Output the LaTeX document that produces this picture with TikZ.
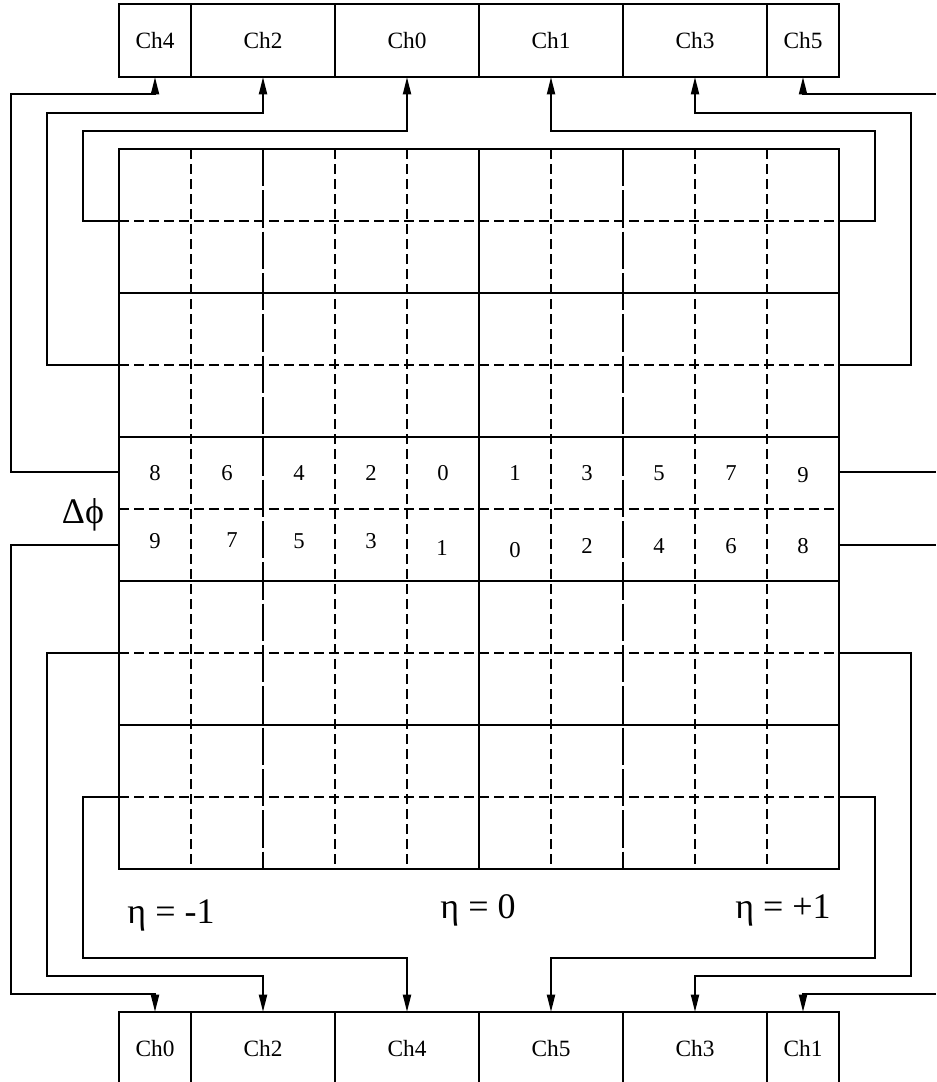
\documentclass[tikz,border=0pt]{standalone}
\usepackage{fontspec}
\setmainfont{Liberation Serif}
\usetikzlibrary{arrows.meta}

\begin{document}
\begin{tikzpicture}[x=0.75pt, y=-0.75pt, line width=1.4pt,
    chbox/.style={draw, minimum height=54.75pt, inner sep=0pt, outer sep=0pt, font=\fontsize{17.5}{20}\selectfont},
    wire/.style={-{Triangle[length=13pt, width=6pt]}},
    fine/.style={dash pattern=on 7.5pt off 3.75pt},
    longdash/.style={dash pattern=on 28pt off 3pt},
    cellnum/.style={font=\fontsize{17}{20}\selectfont},
    biglabel/.style={font=\fontsize{27}{30}\selectfont}]
    \clip (0,0) rectangle (936,1082);

    % cell grid, 10 x 10 cells
    \draw (119,149) rectangle (839,869);
    \foreach \y in {293,437,581,725} \draw (119,\y) -- (839,\y);
    \foreach \y in {221,365,509,653,797} \draw[fine] (119,\y) -- (839,\y);
    \draw (479,149) -- (479,869);
    \foreach \x in {263,623} \draw[longdash] (\x,149) -- (\x,869);
    \foreach \x in {191,335,407,551,695,767} \draw[fine] (\x,149) -- (\x,869);

    % channel boxes
    \foreach \c/\x/\w in {4/155/54, 2/263/108, 0/407/108, 1/551/108, 3/695/108, 5/803/54}
        \node[chbox, minimum width=\w pt] (t\c) at (\x,40.5) {Ch\c};
    \foreach \c/\x/\w in {0/155/54, 2/263/108, 4/407/108, 5/551/108, 3/695/108, 1/803/54}
        \node[chbox, minimum width=\w pt] (b\c) at (\x,1048.5) {Ch\c};

    % where the wires leave the grid
    \foreach \n/\y in {a/221, b/365, c/472, d/545, e/653, f/797} {
        \coordinate (L\n) at (119,\y); \coordinate (R\n) at (839,\y);
    }
    \coordinate (Ec) at (936,472); \coordinate (Et) at (936,94);
    \coordinate (Ed) at (936,545); \coordinate (Eb) at (936,994);

    % wires to the upper channels
    \draw[wire] (Lc) -| (11,94) -| (t4.south);
    \draw[wire] (Lb) -| (47,113) -| (t2.south);
    \draw[wire] (La) -| (83,131) -| (t0.south);
    \draw[wire] (Ra) -| (875,131) -| (t1.south);
    \draw[wire] (Rb) -| (911,113) -| (t3.south);
    \draw (Rc) -- (Ec); \draw[wire] (Et) -| (t5.south);

    % wires to the lower channels
    \draw[wire] (Ld) -| (11,994) -| (b0.north);
    \draw[wire] (Le) -| (47,976) -| (b2.north);
    \draw[wire] (Lf) -| (83,958) -| (b4.north);
    \draw[wire] (Rf) -| (875,958) -| (b5.north);
    \draw[wire] (Re) -| (911,976) -| (b3.north);
    \draw (Rd) -- (Ed); \draw[wire] (Eb) -| (b1.north);

    % cell numbers
    \foreach \v/\x/\y in {8/155/473, 6/227/473, 4/299/473, 2/371/473, 0/443/473,
                          1/515/473, 3/587/473, 5/659/473, 7/731/473, 9/803/475}
        \node[cellnum] (u\v) at (\x,\y) {\v};
    \foreach \v/\x/\y in {9/155/541, 7/232/540, 5/299/541, 3/371/541, 1/442/548,
                          0/515/550, 2/587/546, 4/659/546, 6/731/546, 8/803/546}
        \node[cellnum] (d\v) at (\x,\y) {\v};

    \node[biglabel, anchor=base] (dphi) at (83,523) {Δϕ};
    \node[biglabel, anchor=base] (etaL) at (171,923) {η = -1};
    \node[biglabel, anchor=base] (etaC) at (478,918) {η = 0};
    \node[biglabel, anchor=base] (etaR) at (783,918) {η = +1};
\end{tikzpicture}
\end{document}
